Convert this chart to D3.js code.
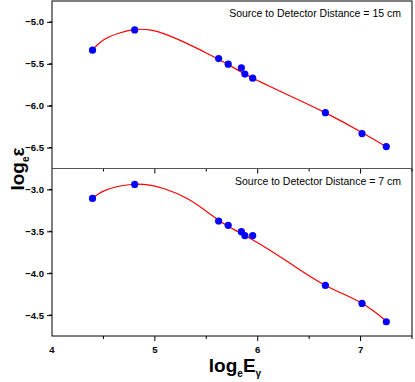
<!DOCTYPE html>
<html>
<head>
<meta charset="utf-8">
<script src="https://cdn.jsdelivr.net/npm/d3@7"></script>
<style>
  body { margin: 0; background: #fff; }
  svg { display: block; font-family: "Liberation Sans", Arial, sans-serif; }
</style>
</head>
<body>
<svg id="chart" width="415" height="382"></svg>
<script>
// measured points (ln of gamma energy)
const energies = [4.394, 4.804, 5.620, 5.713, 5.841, 5.875, 5.951, 6.658, 7.014, 7.250];
const eff15 = [-5.337, -5.095, -5.437, -5.504, -5.548, -5.623, -5.671, -6.083, -6.333, -6.488];
const eff7 = [-3.107, -2.940, -3.377, -3.429, -3.504, -3.551, -3.551, -4.146, -4.361, -4.580];

// fitted curves
const fitX = [4.39, 4.5, 4.65, 4.8, 4.95, 5.1, 5.3, 5.5, 5.7, 5.95, 6.3, 6.65, 7.0, 7.25];
const fit15 = [-5.337, -5.215, -5.135, -5.092, -5.095, -5.145, -5.25, -5.37, -5.50, -5.67, -5.875, -6.08, -6.31, -6.49];
const fit7 = [-3.107, -3.02, -2.962, -2.938, -2.948, -2.995, -3.10, -3.26, -3.43, -3.60, -3.87, -4.14, -4.35, -4.57];

const xTicks = [4, 5, 6, 7];
const panels = [
    {label: "Source to Detector Distance = 15 cm", domain: [-6.75, -4.75], ticks: [-5.0, -5.5, -6.0, -6.5], pts: eff15, fit: fit15},
    {label: "Source to Detector Distance = 7 cm", domain: [-4.75, -2.75], ticks: [-3.0, -3.5, -4.0, -4.5], pts: eff7, fit: fit7}
];

const svg = d3.select('#chart');
const plotL = 52, plotR = 412, plotT = 1, plotM = 168.5, plotB = 336;

const x = d3.scaleLinear().domain([4, 7.5]).range([plotL, plotR]);

panels.forEach((p, i) => {
    const y0 = i === 0 ? plotT : plotM;
    const y1 = i === 0 ? plotM : plotB;
    const y = d3.scaleLinear().domain(p.domain).range([y1, y0]);

    const g = svg.append('g');

    // y axis
    const yAxis = d3.axisLeft(y)
        .tickValues(p.ticks)
        .tickSize(5)
        .tickPadding(3)
        .tickFormat(d3.format('.1f'));
    const ya = g.append('g')
        .attr('transform', `translate(${plotL},0)`)
        .call(yAxis);
    ya.select('.domain').remove();
    ya.selectAll('text')
        .attr('font-size', 9.5)
        .attr('font-weight', 'bold')
        .attr('font-family', '"Liberation Sans", Arial, sans-serif');
    // minor y ticks
    const minor = d3.range(p.domain[0] + 0.25, p.domain[1], 0.5);
    g.selectAll('line.ym')
        .data(minor)
        .enter()
        .append('line')
        .attr('x1', plotL - 3).attr('x2', plotL)
        .attr('y1', d => y(d)).attr('y2', d => y(d))
        .attr('stroke', '#000');

    // x ticks at bottom of each panel (pointing down)
    const xs = d3.range(4.5, 7.51, 0.5);
    g.selectAll('line.xt')
        .data(xs)
        .enter()
        .append('line')
        .attr('x1', d => x(d)).attr('x2', d => x(d))
        .attr('y1', y1).attr('y2', d => y1 + (Number.isInteger(d) ? 5 : 3))
        .attr('stroke', '#000');

    // fit line
    const line = d3.line()
        .x(d => x(d[0]))
        .y(d => y(d[1]))
        .curve(d3.curveNatural);
    g.append('path')
        .datum(fitX.map((v, k) => [v, p.fit[k]]))
        .attr('d', line)
        .attr('fill', 'none')
        .attr('stroke', '#ff0000')
        .attr('stroke-width', 1.2);

    // points
    g.selectAll('circle')
        .data(energies.map((v, k) => [v, p.pts[k]]))
        .enter()
        .append('circle')
        .attr('cx', d => x(d[0]))
        .attr('cy', d => y(d[1]))
        .attr('r', 3.6)
        .attr('fill', '#0000ff');

    g.append('text')
        .attr('x', 401)
        .attr('y', y0 + 16)
        .attr('text-anchor', 'end')
        .attr('font-size', 10.5)
        .text(p.label);
});

// frame
svg.append('rect')
    .attr('x', plotL).attr('y', plotT)
    .attr('width', plotR - plotL).attr('height', plotB - plotT)
    .attr('fill', 'none')
    .attr('stroke', '#000');
svg.append('line')
    .attr('x1', plotL).attr('x2', plotR)
    .attr('y1', plotM).attr('y2', plotM)
    .attr('stroke', '#555');

// x tick labels
svg.selectAll('text.xl')
    .data(xTicks)
    .enter()
    .append('text')
    .attr('x', d => x(d))
    .attr('y', 353)
    .attr('text-anchor', 'middle')
    .attr('font-size', 9.5)
    .attr('font-weight', 'bold')
    .text(d => d);

// axis titles
const xTitle = svg.append('text')
    .attr('x', 235)
    .attr('y', 372)
    .attr('text-anchor', 'middle')
    .attr('font-size', 19)
    .attr('font-weight', 'bold');
xTitle.append('tspan').text('log');
xTitle.append('tspan').attr('font-size', 10).attr('dy', 5).text('e');
xTitle.append('tspan').attr('dy', -5).text('E');
xTitle.append('tspan').attr('font-size', 10).attr('dy', 5).text('γ');

const yTitle = svg.append('text')
    .attr('transform', 'translate(24,169) rotate(-90)')
    .attr('text-anchor', 'middle')
    .attr('font-size', 19)
    .attr('font-weight', 'bold');
yTitle.append('tspan').text('log');
yTitle.append('tspan').attr('font-size', 10).attr('dy', 5).text('e');
yTitle.append('tspan').attr('dy', -5).text('ε');
</script>
</body>
</html>
